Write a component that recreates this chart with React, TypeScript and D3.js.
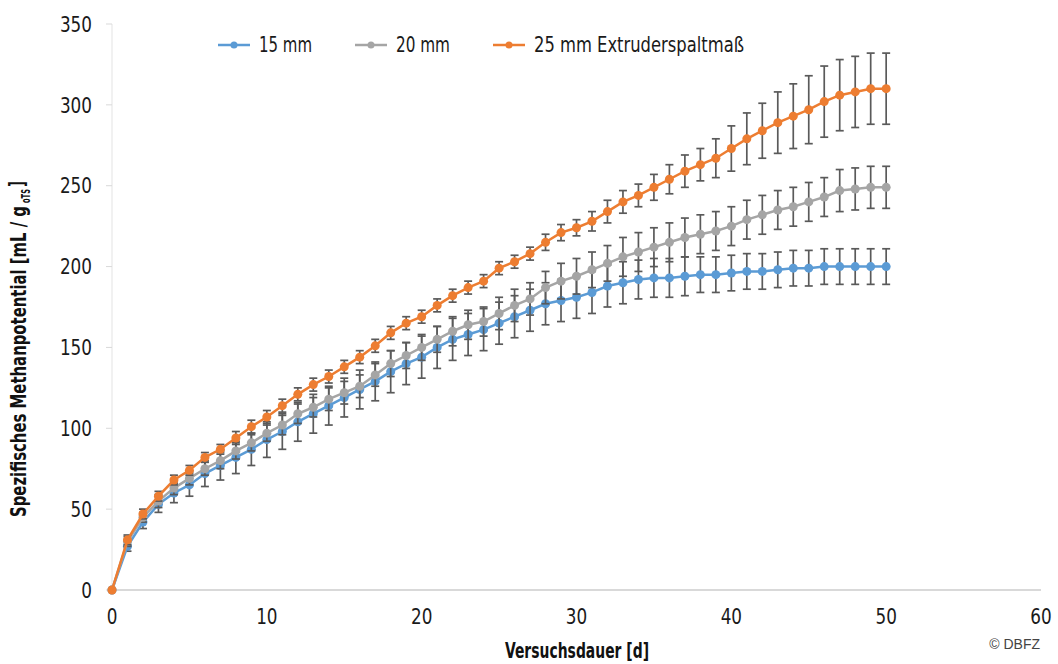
import React from "react";
import * as d3 from "d3";

// Spezifisches Methanpotential je Versuchstag (Tag 0..50)
const seriesNames = ["15 mm", "20 mm", "25 mm Extruderspaltmaß"];
const seriesColors = ["#5B9BD5", "#A5A5A5", "#ED7D31"];

const mm15 = [0, 27, 42, 53, 60, 65, 72, 77, 82, 87, 93, 98, 104, 109, 114, 119, 124, 129, 135, 140, 144, 150, 155, 158, 161, 165, 169, 173, 177, 179, 181, 184, 188, 190, 192, 193, 193, 194, 195, 195, 196, 197, 197, 198, 199, 199, 200, 200, 200, 200, 200];
const mm20 = [0, 30, 45, 55, 63, 69, 75, 80, 86, 91, 97, 102, 109, 113, 118, 122, 126, 133, 140, 145, 150, 155, 160, 164, 166, 171, 176, 180, 187, 191, 194, 198, 202, 206, 209, 212, 215, 218, 220, 222, 225, 229, 232, 235, 237, 240, 243, 247, 248, 249, 249];
const mm25 = [0, 31, 47, 58, 68, 74, 82, 87, 94, 101, 107, 114, 121, 127, 132, 138, 144, 151, 159, 165, 169, 176, 182, 187, 191, 199, 203, 208, 215, 221, 224, 228, 234, 240, 244, 249, 254, 259, 263, 267, 273, 279, 284, 289, 293, 297, 302, 306, 308, 310, 310];

// Standardabweichung (Fehlerbalken)
const err15 = [0, 3, 4, 5, 6, 7, 8, 9, 10, 10, 11, 11, 12, 12, 12, 12, 12, 12, 13, 13, 13, 13, 13, 13, 13, 13, 13, 13, 13, 13, 13, 13, 13, 13, 12, 12, 12, 12, 11, 11, 11, 11, 11, 11, 11, 11, 11, 11, 11, 11, 11];
const err20 = [0, 3, 3, 4, 4, 4, 4, 5, 5, 5, 5, 6, 6, 6, 7, 7, 7, 7, 8, 8, 8, 8, 9, 9, 9, 10, 10, 10, 10, 11, 11, 11, 11, 12, 12, 12, 12, 12, 12, 12, 12, 12, 12, 12, 12, 12, 12, 13, 13, 13, 13];
const err25 = [0, 3, 3, 3, 3, 3, 3, 3, 4, 4, 4, 4, 4, 4, 4, 4, 4, 4, 4, 4, 4, 4, 4, 4, 4, 4, 4, 4, 5, 5, 5, 6, 7, 7, 7, 8, 9, 10, 10, 12, 14, 16, 17, 19, 20, 21, 22, 22, 22, 22, 22];

const xTicks = [0, 10, 20, 30, 40, 50, 60];
const yTicks = [0, 50, 100, 150, 200, 250, 300, 350];

const FONT = "'DejaVu Sans Condensed', 'Liberation Sans Narrow', sans-serif";
const DIGIT_W = 10.7; // narrow digits in the original

const App = () => {
  const width = 1058;
  const height = 664;
  const margin = { top: 24, right: 17, bottom: 74, left: 112 };

  const x = d3.scaleLinear().domain([0, 60]).range([margin.left, width - margin.right]);
  const y = d3.scaleLinear().domain([0, 350]).range([height - margin.bottom, margin.top]);

  const series = [mm15, mm20, mm25].map((vals, si) => ({
    name: seriesNames[si],
    color: seriesColors[si],
    points: vals.map((v, i) => ({ day: i, v, e: [err15, err20, err25][si][i] })),
  }));

  const line = d3
    .line<{ day: number; v: number }>()
    .x((d) => x(d.day))
    .y((d) => y(d.v));

  const legendX = [218, 355, 493];
  const legendW = [53, 54, 210];

  return (
    <svg
      width={width}
      height={height}
      style={{ position: "absolute", left: 0, top: 0, background: "#fff" }}
      fontFamily={FONT}
    >
      {/* axes */}
      <line x1={x(0)} x2={x(60)} y1={y(0)} y2={y(0)} stroke="#d9d9d9" strokeWidth={2} />
      <line x1={x(0)} x2={x(0)} y1={y(0)} y2={y(350)} stroke="#e3e3e3" strokeWidth={1} />
      {yTicks.map((t) => (
        <g key={t}>
          <line x1={x(0) - 6} x2={x(0)} y1={y(t)} y2={y(t)} stroke="#d9d9d9" />
          <text
            x={92}
            y={y(t)}
            dy="0.35em"
            textAnchor="end"
            fontSize={22}
            fill="#1a1a1a"
            textLength={String(t).length * DIGIT_W}
            lengthAdjust="spacingAndGlyphs"
          >
            {t}
          </text>
        </g>
      ))}
      {xTicks.map((t) => (
        <text
          key={t}
          x={x(t)}
          y={616}
          dy="0.35em"
          textAnchor="middle"
          fontSize={22}
          fill="#1a1a1a"
          textLength={String(t).length * DIGIT_W}
          lengthAdjust="spacingAndGlyphs"
        >
          {t}
        </text>
      ))}

      {/* series */}
      {series.map((s) => (
        <g key={s.name}>
          {s.points
            .filter((p) => p.e > 0)
            .map((p) => (
              <g key={p.day} stroke="#5a5a5a" strokeWidth={1.7}>
                <line x1={x(p.day)} x2={x(p.day)} y1={y(p.v - p.e)} y2={y(p.v + p.e)} />
                <line x1={x(p.day) - 4} x2={x(p.day) + 4} y1={y(p.v - p.e)} y2={y(p.v - p.e)} />
                <line x1={x(p.day) - 4} x2={x(p.day) + 4} y1={y(p.v + p.e)} y2={y(p.v + p.e)} />
              </g>
            ))}
          <path d={line(s.points) || ""} fill="none" stroke={s.color} strokeWidth={2.5} />
          {s.points.map((p) => (
            <circle key={p.day} cx={x(p.day)} cy={y(p.v)} r={4.5} fill={s.color} />
          ))}
        </g>
      ))}

      {/* legend */}
      {series.map((s, i) => (
        <g key={s.name} transform={`translate(${legendX[i]},45)`}>
          <line x1={0} x2={32} y1={0} y2={0} stroke={s.color} strokeWidth={2.5} />
          <circle cx={16} cy={0} r={3.5} fill={s.color} />
          <text
            x={41}
            y={0}
            dy="0.35em"
            fontSize={21}
            fill="#1a1a1a"
            textLength={legendW[i]}
            lengthAdjust="spacingAndGlyphs"
          >
            {s.name}
          </text>
        </g>
      ))}

      {/* axis titles */}
      <text
        x={505}
        y={651}
        dy="0.35em"
        fontSize={21}
        fontWeight="bold"
        fill="#111"
        textLength={144}
        lengthAdjust="spacingAndGlyphs"
      >
        Versuchsdauer [d]
      </text>
      <g transform="translate(26,517) rotate(-90)" fontWeight="bold" fill="#111">
        <text x={0} y={0} fontSize={21} textLength={311} lengthAdjust="spacingAndGlyphs">
          Spezifisches Methanpotential [mL / g
        </text>
        <text x={314} y={4} fontSize={12} textLength={14} lengthAdjust="spacingAndGlyphs">
          oTS
        </text>
        <text x={330} y={-2} fontSize={21} textLength={6} lengthAdjust="spacingAndGlyphs">
          ]
        </text>
      </g>

      <text x={1040} y={644} dy="0.35em" textAnchor="end" fontSize={14} fontFamily="'Liberation Sans', Arial, sans-serif" fill="#444">
        © DBFZ
      </text>
    </svg>
  );
};

export default App;
